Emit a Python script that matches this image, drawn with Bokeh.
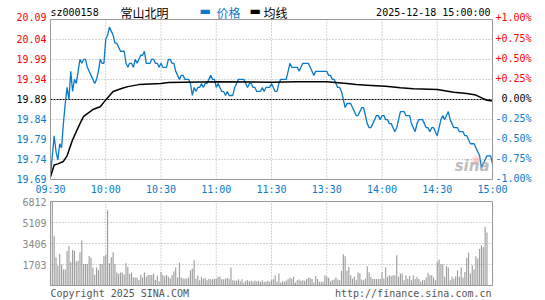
from bokeh.plotting import figure
from bokeh.models import Range1d, Label
from bokeh.layouts import column
from bokeh.embed import file_html
from bokeh.resources import INLINE

# ---------------- data ----------------
minutes = list(range(241))

price = [
    19.70, 19.75, 19.80, 19.76, 19.74, 19.78, 19.77, 19.83, 19.88, 19.92,
    19.89, 19.96, 19.91, 19.94, 19.93, 19.96, 19.99, 19.98, 19.99, 19.99,
    19.97, 19.96, 19.95, 19.94, 19.93, 19.94, 19.96, 19.99, 19.98, 19.98,
    20.04, 20.05, 20.07, 20.06, 20.05, 20.03, 20.03, 20.02, 20.01, 20.01,
    20.01, 19.98, 19.97, 19.98, 19.98, 19.97, 19.99, 19.98, 19.99, 20.00,
    20.00, 20.01, 19.98, 19.98, 19.98, 19.99, 19.99, 19.98, 19.98, 19.97,
    19.98, 19.97, 19.97, 19.97, 19.99, 19.99, 19.98, 19.98, 19.96, 19.95,
    19.94, 19.95, 19.95, 19.94, 19.94, 19.94, 19.93, 19.90, 19.92, 19.91,
    19.92, 19.92, 19.93, 19.92, 19.93, 19.93, 19.94, 19.95, 19.94, 19.94,
    19.92, 19.93, 19.92, 19.91, 19.91, 19.90, 19.91, 19.90, 19.90, 19.90,
    19.92, 19.93, 19.94, 19.94, 19.94, 19.94, 19.93, 19.92, 19.93, 19.93,
    19.92, 19.92, 19.91, 19.91, 19.91, 19.92, 19.91, 19.92, 19.92, 19.92,
    19.93, 19.92, 19.91, 19.91, 19.93, 19.94, 19.94, 19.94, 19.94, 19.96,
    19.98, 19.97, 19.97, 19.97, 19.97, 19.96, 19.97, 19.98, 19.98, 19.98,
    19.98, 19.97, 19.96, 19.95, 19.96, 19.96, 19.96, 19.96, 19.96, 19.96,
    19.96, 19.95, 19.95, 19.94, 19.94, 19.93, 19.92, 19.92, 19.91, 19.89,
    19.87, 19.88, 19.88, 19.88, 19.87, 19.86, 19.85, 19.85, 19.86, 19.87,
    19.87, 19.85, 19.83, 19.82, 19.82, 19.83, 19.84, 19.85, 19.85, 19.84,
    19.85, 19.85, 19.84, 19.84, 19.83, 19.83, 19.82, 19.81, 19.82, 19.84,
    19.86, 19.86, 19.86, 19.85, 19.85, 19.85, 19.83, 19.82, 19.81, 19.83,
    19.84, 19.84, 19.84, 19.83, 19.82, 19.82, 19.81, 19.82, 19.82, 19.81,
    19.80, 19.82, 19.84, 19.85, 19.84, 19.85, 19.86, 19.84, 19.83, 19.82,
    19.82, 19.82, 19.81, 19.81, 19.81, 19.80, 19.80, 19.79, 19.78, 19.78,
    19.78, 19.77, 19.76, 19.75, 19.72, 19.73, 19.74, 19.75, 19.75, 19.75, 19.73,
]

volume = [
    1190, 6812, 4000, 2300, 1600, 2550, 1700, 1300, 1300, 2800,
    3200, 1900, 2900, 2800, 1950, 2000, 2700, 3650, 1750, 1750,
    1750, 2400, 2250, 1450, 900, 1450, 1250, 1750, 1750, 2400,
    2500, 6100, 1800, 2300, 2700, 1750, 1050, 950, 1050, 1050,
    900, 1800, 1500, 950, 1050, 650, 650, 650, 450, 850,
    650, 1050, 700, 850, 850, 850, 950, 450, 800, 350,
    1100, 850, 750, 880, 700, 570, 850, 1130, 1460, 650,
    1840, 650, 570, 540, 570, 650, 1240, 1350, 2050, 540,
    810, 430, 700, 540, 620, 430, 540, 500, 510, 540,
    540, 700, 700, 510, 510, 540, 620, 540, 1460, 430,
    380, 380, 510, 350, 510, 250, 380, 430, 350, 380,
    300, 380, 350, 380, 300, 430, 300, 300, 380, 300,
    430, 500, 840, 300, 970, 250, 350, 300, 380, 500,
    650, 550, 700, 250, 430, 480, 380, 430, 380, 520,
    620, 620, 520, 250, 780, 520, 300, 300, 300, 840,
    700, 620, 350, 430, 480, 650, 480, 430, 1190, 2540,
    2380, 1190, 1510, 840, 560, 700, 430, 1050, 1000, 480,
    430, 570, 1570, 1080, 700, 520, 520, 520, 520, 520,
    1100, 570, 1460, 700, 840, 760, 840, 840, 2460, 700,
    970, 970, 430, 840, 520, 780, 430, 840, 520, 700,
    520, 300, 430, 430, 650, 1030, 840, 840, 650, 430,
    1920, 2110, 1730, 1730, 700, 1570, 1460, 430, 700, 540,
    760, 1240, 700, 1460, 650, 1100, 2220, 2650, 970, 1650,
    1300, 2380, 2190, 2950, 3270, 3130, 4760, 4300, 0, 0, 0,
]

avg_minutes = [0, 2, 4, 7, 9, 12, 16, 18, 23, 27, 30, 34, 39, 42, 48, 60, 64, 90,
               120, 133, 150, 161, 166, 174, 182, 190, 197, 210, 219, 226, 231,
               235, 237, 240]
avg_price = [19.698, 19.727, 19.730, 19.736, 19.750, 19.790, 19.830, 19.848,
             19.865, 19.872, 19.889, 19.910, 19.918, 19.922, 19.927, 19.930,
             19.932, 19.934, 19.933, 19.934, 19.934, 19.930, 19.927, 19.925,
             19.923, 19.919, 19.917, 19.915, 19.908, 19.905, 19.901, 19.892,
             19.888, 19.886]

prev_close = 19.89
pct_ticks = [1.00, 0.75, 0.50, 0.25, 0.00, -0.25, -0.50, -0.75, -1.00]
pct_labels = ["+1.00%", "+0.75%", "+0.50%", "+0.25%", "0.00%",
              "-0.25%", "-0.50%", "-0.75%", "-1.00%"]
price_labels = ["20.09", "20.04", "19.99", "19.94", "19.89",
                "19.84", "19.79", "19.74", "19.69"]
time_ticks = [0, 30, 60, 90, 120, 150, 180, 210, 240]
time_labels = ["09:30", "10:00", "10:30", "11:00", "11:30",
               "13:30", "14:00", "14:30", "15:00"]
vol_max = 6812
vol_ticks = [6812, 5109, 3406, 1703]
vol_labels = ["6812", "5109", "3406", "1703"]

stock_code = "sz000158"
stock_name = "常山北明"
legend_price = "价格"
legend_avg = "均线"
stamp = "2025-12-18 15:00:00"
copyright_text = "Copyright 2025 SINA.COM"
url_text = "http://finance.sina.com.cn"

# ---------------- style / geometry ----------------
RED = "#FF0000"
BLUE = "#0A7AC8"
BLACK = "#000000"
GRID = "#AAAAAA"
BORDER = "#999999"
VOLC = "#9A9A9A"
MONO = "DejaVu Sans Mono"
CJK = "Noto Sans CJK SC"
FS = "10px"

W = 545
PL, PR = 50, 53            # left / right margins of the plotting box
PT, PH, PB = 19, 160, 16   # price panel: top margin, box height, bottom margin
VT, VH, VB = 6, 84, 15     # volume panel

lo = prev_close * (1 - 0.01)
hi = prev_close * (1 + 0.01)
tick_pos = [prev_close * (1 + t / 100.0) for t in pct_ticks]

x0, x1 = time_ticks[0], time_ticks[-1]
xpx = (x1 - x0) / (W - PL - PR)
xr = Range1d(x0 - PL * xpx, x1 + PR * xpx)

ppx = (hi - lo) / PH
p = figure(width=W, height=PT + PH + PB, x_range=xr,
           y_range=Range1d(lo - PB * ppx, hi + PT * ppx),
           output_backend="svg", toolbar_location=None,
           x_axis_location=None, y_axis_location=None, min_border=0)
p.outline_line_color = None
p.grid.visible = False


def add_grid(fig, ylo, yhi, hlines):
    inner_t = time_ticks[1:-1]
    fig.segment(x0=inner_t, y0=[ylo] * len(inner_t), x1=inner_t, y1=[yhi] * len(inner_t),
                line_color=GRID, line_dash="1 2", line_width=1)
    fig.segment(x0=[x0] * len(hlines), y0=hlines, x1=[x1] * len(hlines), y1=hlines,
                line_color=GRID, line_dash="1 2", line_width=1)


hgrid = [t for t, c in zip(tick_pos[1:-1], pct_ticks[1:-1]) if c != 0]
add_grid(p, lo, hi, hgrid)
p.segment(x0=[x0], y0=[prev_close], x1=[x1], y1=[prev_close],
          line_color=BLACK, line_dash="2 1", line_width=1)
p.line(minutes, price, line_color=BLUE, line_width=1.3)
p.line(avg_minutes, avg_price, line_color=BLACK, line_width=1.5)
p.quad(left=[x0], right=[x1], bottom=[lo], top=[hi], fill_color=None,
       line_color=BORDER, line_width=1)


def col_for(c):
    return RED if c > 0 else (BLACK if c == 0 else BLUE)


for k, (pos, c, pl, ql) in enumerate(zip(tick_pos, pct_ticks, price_labels, pct_labels)):
    dy = 2.5 if k == 0 else 1
    p.add_layout(Label(x=x0, y=pos, x_offset=-4, y_offset=dy, text=pl, text_align="right",
                       text_baseline="middle", text_font=MONO, text_font_size=FS,
                       text_color=col_for(c)))
    p.add_layout(Label(x=x1, y=pos, x_offset=39, y_offset=dy, text=ql, text_align="right",
                       text_baseline="middle", text_font=MONO, text_font_size=FS,
                       text_color=col_for(c)))

for t, tl in zip(time_ticks, time_labels):
    p.add_layout(Label(x=t, y=lo, y_offset=-9.5, text=tl, text_align="center",
                       text_baseline="middle", text_font=MONO, text_font_size=FS,
                       text_color=BLUE))

# header row
hy = 7.5
p.add_layout(Label(x=x0, y=hi, y_offset=hy, text=stock_code, text_align="left",
                   text_baseline="middle", text_font=MONO, text_font_size=FS,
                   text_color=BLACK))
p.add_layout(Label(x=x0, y=hi, x_offset=70, y_offset=hy, text=stock_name,
                   text_align="left", text_baseline="middle", text_font=CJK,
                   text_font_size="12px", text_color=BLACK))
p.add_layout(Label(x=x0, y=hi, x_offset=149, y_offset=hy + 1, text="\u25AC",
                   text_align="left", text_baseline="middle", text_font="DejaVu Sans",
                   text_font_size="12px", text_color=BLUE))
p.add_layout(Label(x=x0, y=hi, x_offset=166, y_offset=hy, text=legend_price,
                   text_align="left", text_baseline="middle", text_font=CJK,
                   text_font_size="12px", text_color=BLUE))
p.add_layout(Label(x=x0, y=hi, x_offset=199, y_offset=hy + 1, text="\u25AC",
                   text_align="left", text_baseline="middle", text_font="DejaVu Sans",
                   text_font_size="12px", text_color=BLACK))
p.add_layout(Label(x=x0, y=hi, x_offset=213, y_offset=hy, text=legend_avg,
                   text_align="left", text_baseline="middle", text_font=CJK,
                   text_font_size="12px", text_color=BLACK))
p.add_layout(Label(x=x1, y=hi, x_offset=-2, y_offset=hy, text=stamp,
                   text_align="right", text_baseline="middle", text_font=MONO,
                   text_font_size=FS, text_color=BLACK))

# watermark
p.add_layout(Label(x=x1, y=lo, x_offset=-16, y_offset=20, text="\u25C9",
                   text_align="center", text_baseline="middle", text_font="DejaVu Sans",
                   text_font_size="13px", text_color="#F08C8C", text_alpha=0.45))
p.add_layout(Label(x=x1, y=lo, x_offset=-3, y_offset=5, text="sina",
                   text_align="right", text_baseline="bottom", text_font="DejaVu Sans",
                   text_font_style="bold italic", text_font_size="15px",
                   text_color="#A8A8A8", text_alpha=0.75))

# ---------------- volume panel ----------------
vpx = vol_max / VH
v = figure(width=W, height=VT + VH + VB, x_range=xr,
           y_range=Range1d(-VB * vpx, vol_max + VT * vpx),
           output_backend="svg", toolbar_location=None,
           x_axis_location=None, y_axis_location=None, min_border=0)
v.outline_line_color = None
v.grid.visible = False
add_grid(v, 0, vol_max, vol_ticks[1:])
v.vbar(x=minutes, top=volume, bottom=0, width=0.6, fill_color=VOLC, line_color=None)
v.quad(left=[x0], right=[x1], bottom=[0], top=[vol_max], fill_color=None,
       line_color=BORDER, line_width=1)

for t, tl in zip(vol_ticks, vol_labels):
    v.add_layout(Label(x=x0, y=t, x_offset=-4, text=tl, text_align="right",
                       text_baseline="middle", text_font=MONO, text_font_size=FS,
                       text_color="#888888"))

v.add_layout(Label(x=x0, y=0, y_offset=-7.5, text=copyright_text, text_align="left",
                   text_baseline="middle", text_font=MONO, text_font_size=FS,
                   text_color="#555555"))
v.add_layout(Label(x=x1, y=0, x_offset=-1, y_offset=-7.5, text=url_text,
                   text_align="right", text_baseline="middle", text_font=MONO,
                   text_font_size=FS, text_color="#555555"))

layout = column(p, v, spacing=0)
open("out.html", "w").write(file_html(layout, INLINE))
